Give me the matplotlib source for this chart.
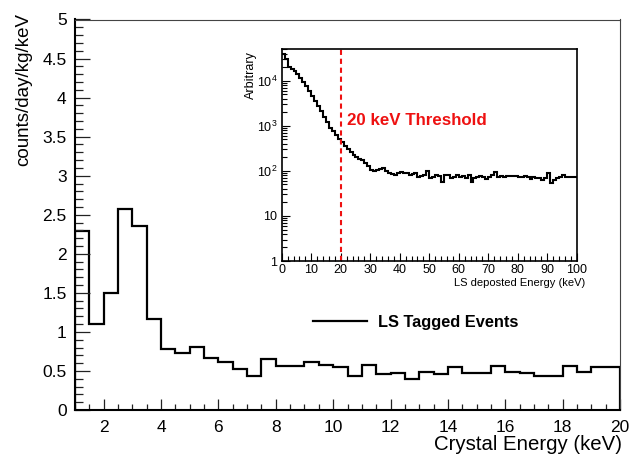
import numpy as np
import matplotlib
matplotlib.use("Agg")
import matplotlib.pyplot as plt
from matplotlib.ticker import MultipleLocator, FixedLocator, LogLocator, NullFormatter

plt.rcParams['font.family'] = ['Liberation Sans', 'DejaVu Sans']
plt.rcParams['mathtext.fontset'] = 'custom'
plt.rcParams['mathtext.rm'] = 'Liberation Sans'

# ---------------- data ----------------
main_edges_start = 1.0
main_bin_width = 0.5
main_values = [2.29, 1.10, 1.50, 2.57, 2.35, 1.17, 0.78, 0.73, 0.81, 0.66,
               0.61, 0.52, 0.44, 0.655, 0.56, 0.56, 0.62, 0.575, 0.545, 0.44,
               0.58, 0.46, 0.475, 0.40, 0.485, 0.46, 0.545, 0.47, 0.48, 0.566,
               0.49, 0.475, 0.44, 0.44, 0.56, 0.49, 0.553, 0.553]

inset_values = [40000, 30000, 20000, 18600, 16600, 14100, 11500, 9300, 7600, 6000,
                4700, 3550, 2750, 2100, 1580, 1200, 910, 760, 630, 525,
                430, 365, 310, 265, 230, 205, 185, 175, 150, 126,
                105, 100, 105, 112, 115, 98, 89, 85, 80, 90,
                95, 88, 92, 80, 86, 90, 72, 78, 82, 100,
                68, 75, 82, 78, 58, 82, 80, 70, 74, 80,
                72, 76, 70, 80, 58, 68, 72, 78, 74, 66,
                75, 80, 94, 72, 76, 75, 76, 76, 76, 76,
                75, 72, 76, 73, 66, 75, 68, 70, 64, 68,
                90, 55, 62, 68, 72, 80, 75, 73, 72, 72]

main_xlabel = "Crystal Energy (keV)"
main_ylabel = "counts/day/kg/keV"
legend_label = "LS Tagged Events"
inset_xlabel = "LS deposted Energy (keV)"
inset_ylabel = "Arbitrary"
threshold_keV = 20
threshold_label = "20 keV Threshold"
inset_ytick_vals = [1, 10, 100, 1000, 10000]
inset_ytick_labels = ['1', '10', r'$10^{2}$', r'$10^{3}$', r'$10^{4}$']

# ---------------- figure ----------------
W, H = 629, 457
fig = plt.figure(figsize=(W / 100, H / 100), dpi=100)

ax = fig.add_axes([75 / W, (H - 410) / H, 545 / W, 390.5 / H])
main_edges = main_edges_start + main_bin_width * np.arange(len(main_values) + 1)
ax.stairs(main_values, main_edges, baseline=0, color='black', linewidth=1.6,
          label=legend_label)
ax.set_xlim(1, 20)
ax.set_ylim(0, 5)
ax.xaxis.set_major_locator(MultipleLocator(2))
ax.xaxis.set_minor_locator(MultipleLocator(0.5))
ax.yaxis.set_major_locator(MultipleLocator(0.5))
ax.yaxis.set_minor_locator(MultipleLocator(0.1))
ax.yaxis.set_major_formatter(matplotlib.ticker.FuncFormatter(lambda v, p: f"{v:g}"))
ax.tick_params(axis='both', which='both', direction='in', width=0.9, colors='#222222',
               labelcolor='black', labelsize=12.5)
ax.tick_params(axis='y', which='major', length=11, pad=6)
ax.tick_params(axis='y', which='minor', length=5.5)
ax.tick_params(axis='x', which='major', length=8, pad=7)
ax.tick_params(axis='x', which='minor', length=4.3)
for s in ['left', 'bottom']:
    ax.spines[s].set_linewidth(1.5)
for s in ['top', 'right']:
    ax.spines[s].set_linewidth(0.8)
    ax.spines[s].set_color('#444444')

fig.text(24 / W, 1 - 13 / H, main_ylabel, rotation=90, ha='center', va='top',
         fontsize=13.5)
fig.text(622 / W, 1 - 445 / H, main_xlabel, ha='right', va='center', fontsize=14.7)

# legend
ax.legend(loc='upper left', bbox_to_anchor=(298 / W, 1 - 300 / H),
          bbox_transform=fig.transFigure, frameon=False, handlelength=3.3,
          handletextpad=0.7, prop={'weight': 'bold', 'size': 11.8})

# ---------------- inset ----------------
axi = fig.add_axes([281.7 / W, (H - 261) / H, 295 / W, 212 / H])
inset_edges = np.arange(len(inset_values) + 1)
axi.stairs(inset_values, inset_edges, baseline=None, color='black', linewidth=1.5)
axi.set_yscale('log')
axi.set_xlim(0, 100)
axi.set_ylim(1, 51000)
axi.axvline(threshold_keV, color='#ee1111', linestyle=(0, (2.5, 1.8)), linewidth=1.5)
axi.text(22.1, 1350, threshold_label, color='#ee1111', fontsize=12.2, fontweight='bold',
         ha='left', va='center')
axi.xaxis.set_major_locator(MultipleLocator(10))
axi.xaxis.set_minor_locator(MultipleLocator(2))
axi.yaxis.set_major_locator(FixedLocator(inset_ytick_vals))
axi.set_yticklabels(inset_ytick_labels)
axi.yaxis.set_minor_locator(LogLocator(base=10, subs=np.arange(2, 10)))
axi.yaxis.set_minor_formatter(NullFormatter())
axi.tick_params(axis='both', which='both', direction='in', width=0.8, labelsize=9)
axi.tick_params(axis='both', which='major', length=6, pad=3)
axi.tick_params(axis='x', which='major', pad=2.5)
axi.tick_params(axis='both', which='minor', length=3.5)
for s in axi.spines.values():
    s.set_linewidth(1.2)

fig.text(251 / W, 1 - 51 / H, inset_ylabel, rotation=90, ha='center', va='top',
         fontsize=9)
fig.text(585 / W, 1 - 283 / H, inset_xlabel, ha='right', va='center', fontsize=8)

fig.savefig("out.png", dpi=100)
